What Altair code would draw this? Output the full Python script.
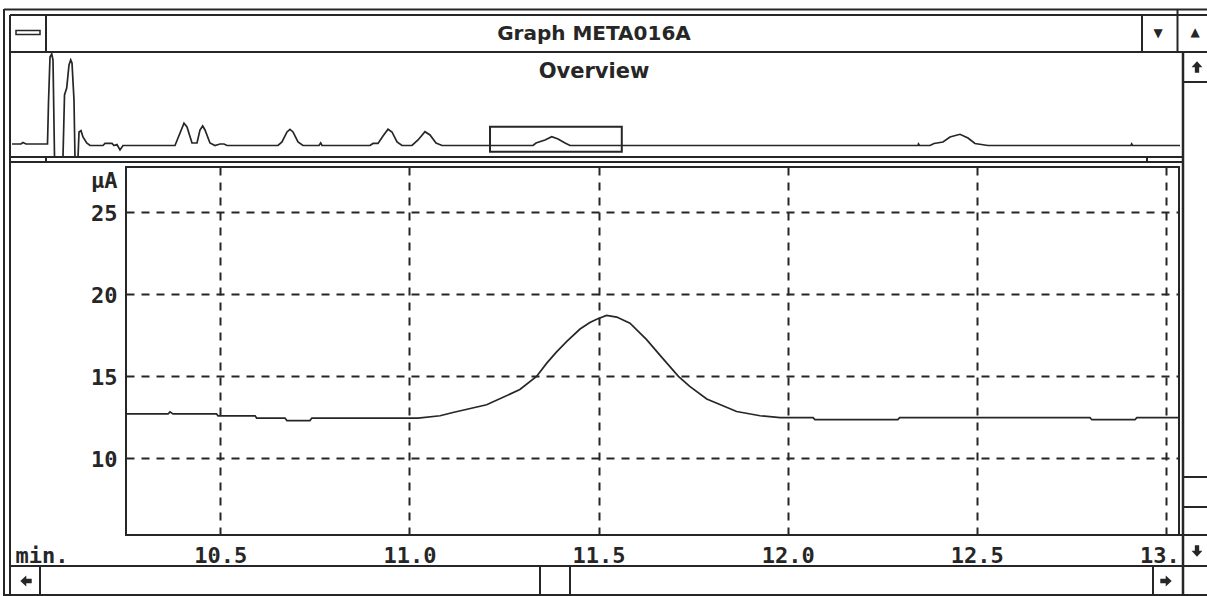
import altair as alt
import pandas as pd

# ---------------- data ----------------
# main (zoomed) trace: retention time [min] vs detector current [µA]
main_t = [10.251, 10.362, 10.367, 10.375, 10.490, 10.494, 10.592, 10.596, 10.671, 10.676,
          10.737, 10.742, 11.023, 11.081, 11.115, 11.204, 11.292, 11.336, 11.363, 11.389,
          11.416, 11.451, 11.477, 11.495, 11.521, 11.548, 11.583, 11.627, 11.665, 11.711,
          11.741, 11.786, 11.865, 11.927, 11.980, 12.067, 12.072, 12.291, 12.296, 12.799,
          12.804, 12.918, 12.923, 13.034]
main_v = [12.67, 12.67, 12.80, 12.67, 12.67, 12.56, 12.56, 12.42, 12.42, 12.27,
          12.27, 12.42, 12.42, 12.56, 12.76, 13.23, 14.16, 14.96, 15.77, 16.46,
          17.10, 17.85, 18.25, 18.45, 18.68, 18.58, 18.21, 17.20, 16.18, 14.96,
          14.35, 13.58, 12.82, 12.56, 12.45, 12.45, 12.33, 12.33, 12.45, 12.45,
          12.32, 12.32, 12.45, 12.45]

# overview trace (whole run)
ov_t = [0.165, 0.355, 0.397, 0.461, 0.914, 0.935, 0.967, 1.003, 1.030, 1.062,
        1.241, 1.273, 1.319, 1.368, 1.404, 1.431, 1.473, 1.494, 1.558, 1.579,
        1.621, 1.663, 1.741, 1.811, 2.085, 2.127, 2.275, 2.317, 2.380, 2.444,
        2.507, 3.604, 3.710, 3.794, 3.857, 3.963, 4.068, 4.131, 4.188, 4.237,
        4.342, 4.448, 4.553, 4.638, 4.701, 5.777, 5.861, 5.967, 6.030, 6.093,
        6.199, 6.304, 6.642, 6.678, 6.705, 7.718, 7.781, 7.887, 7.992, 8.098,
        8.182, 8.288, 8.393, 8.604, 8.731, 8.878, 8.984, 9.111, 9.237, 11.157,
        11.220, 11.410, 11.552, 11.685, 11.833, 11.938, 19.279, 19.289, 19.311, 19.532,
        19.617, 19.806, 19.954, 20.165, 20.334, 20.481, 20.755, 23.772, 23.787, 23.804,
        24.806]
ov_v = [13.53, 13.53, 14.57, 13.53, 13.53, 41.81, 73.53, 75.60, 71.47, 4.57,
        4.57, 47.33, 52.16, 68.02, 71.47, 69.40, 43.88, 4.57, 4.57, 21.81,
        22.71, 18.36, 14.22, 12.50, 12.50, 13.88, 13.88, 12.50, 13.19, 9.40,
        12.50, 12.50, 21.12, 27.81, 25.26, 14.22, 14.22, 23.19, 25.95, 23.19,
        14.22, 12.50, 13.53, 13.53, 12.50, 12.50, 14.91, 21.81, 23.67, 21.81,
        14.91, 12.50, 12.50, 14.22, 12.50, 12.50, 13.88, 13.88, 19.05, 23.67,
        21.81, 14.91, 12.50, 12.50, 16.29, 22.02, 19.74, 14.22, 12.50, 12.50,
        14.22, 16.29, 18.57, 16.98, 14.22, 12.50, 12.50, 13.53, 12.50, 12.50,
        13.88, 14.91, 18.36, 20.22, 17.67, 13.88, 12.50, 12.50, 13.53, 12.50,
        12.50]

x_ticks = [10.5, 11.0, 11.5, 12.0, 12.5, 13.0]
y_ticks = [10, 15, 20, 25]
view_window = [10.25, 13.03]   # time range shown in the main graph

# ---------------- layout / style ----------------
OX, OY = 126, 167          # plot-area origin in the window
W, H = 1053, 368
INK = "#262626"
MONO = "DejaVu Sans Mono"
SANS = "DejaVu Sans"
ARROW = "M0,-1 L0.95,0.05 L0.38,0.05 L0.38,1 L-0.38,1 L-0.38,0.05 L-0.95,0.05 Z"

main_df = pd.DataFrame({"t": main_t, "v": main_v})
ov_df = pd.DataFrame({"t": ov_t, "v": ov_v})
box_df = pd.DataFrame({"t0": [view_window[0]], "t1": [view_window[1]]})
one = pd.DataFrame({"k": [0]})

ov_x = alt.Scale(domain=[0, 25], range=[4.17 - OX, 1189.17 - OX], nice=False, zero=False)
ov_y = alt.Scale(domain=[0, 80], range=[163.6 - OY, 47.6 - OY], nice=False, zero=False)

main = alt.Chart(main_df).mark_line(color=INK, strokeWidth=1.7).encode(
    x=alt.X("t:Q",
            scale=alt.Scale(domain=[10.2507, 13.0344], nice=False, zero=False),
            axis=alt.Axis(values=x_ticks, labelExpr="format(datum.value, '.1f')",
                          grid=True, gridDash=[8, 7], gridColor=INK, gridWidth=2, gridOpacity=1,
                          domain=False, ticks=False,
                          labelFont=MONO, labelFontWeight="bold", labelFontSize=22,
                          labelColor=INK, labelPadding=10, labelFlush=False, labelOverlap=False,
                          title="min.", titleFont=MONO, titleFontWeight="bold", titleFontSize=22,
                          titleColor=INK, titleAlign="left", titleAngle=0,
                          titleBaseline="alphabetic", titleX=15 - OX, titleY=562 - 535)),
    y=alt.Y("v:Q",
            scale=alt.Scale(domain=[5.29, 27.73], nice=False, zero=False),
            axis=alt.Axis(values=y_ticks, grid=True, gridDash=[8, 7], gridColor=INK,
                          gridWidth=2, gridOpacity=1, domain=False, ticks=False,
                          labelFont=MONO, labelFontWeight="bold", labelFontSize=22,
                          labelColor=INK, labelPadding=9, labelOffset=2, labelFlush=False,
                          title="µA", titleFont=MONO, titleFontWeight="bold", titleFontSize=22,
                          titleColor=INK, titleAlign="right", titleAngle=0,
                          titleBaseline="alphabetic", titleX=-9, titleY=20)),
)

overview = alt.Chart(ov_df).mark_line(color=INK, strokeWidth=1.7).encode(
    x=alt.X("t:Q", scale=ov_x, axis=None),
    y=alt.Y("v:Q", scale=ov_y, axis=None),
)

box = alt.Chart(box_df).mark_rect(fill="white", fillOpacity=0, stroke=INK, strokeWidth=2).encode(
    x=alt.X("t0:Q", scale=ov_x, axis=None),
    x2="t1:Q",
    y=alt.value(126.7 - OY),
    y2=alt.value(151.7 - OY),
)


def cover(x1, y1, x2, y2):
    return alt.Chart(one).mark_rect(fill="white", stroke=None).encode(
        x=alt.value(x1 - OX), x2=alt.value(x2 - OX),
        y=alt.value(y1 - OY), y2=alt.value(y2 - OY))


def hline(y, x1, x2, w=2):
    return alt.Chart(one).mark_rule(color=INK, strokeWidth=w).encode(
        x=alt.value(x1 - OX), x2=alt.value(x2 - OX), y=alt.value(y - OY))


def vline(x, y1, y2, w=2):
    return alt.Chart(one).mark_rule(color=INK, strokeWidth=w).encode(
        x=alt.value(x - OX), y=alt.value(y1 - OY), y2=alt.value(y2 - OY))


def label(txt, x, y, size, font=SANS, weight="bold", baseline="middle"):
    return alt.Chart(one).mark_text(font=font, fontSize=size, fontWeight=weight, color=INK,
                                    align="center", baseline=baseline).encode(
        x=alt.value(x - OX), y=alt.value(y - OY), text=alt.value(txt))


def arrow(x, y, angle):
    return alt.Chart(one).mark_point(shape=ARROW, filled=True, color=INK, opacity=1,
                                     size=130, angle=angle).encode(
        x=alt.value(x - OX), y=alt.value(y - OY))


chrome = [
    cover(1184, 52, 1207, 596),
    cover(1177, 537, 1207, 565),
    # outer frame
    hline(9.5, 4, 1207), hline(15, 10, 1207), hline(52, 10, 1207),
    vline(4, 9, 596), vline(10, 15, 596),
    hline(595, 4, 1207),
    # title bar buttons
    vline(46, 15, 52), vline(1142, 15, 52), vline(1177.5, 9, 52),
    # overview / main separator
    hline(157, 10, 1183), hline(162, 10, 1183),
    vline(46, 157, 162), vline(1147, 157, 162),
    # vertical scrollbar
    vline(1183, 52, 596, 2.5),
    hline(82, 1183, 1207), hline(477, 1183, 1207), hline(507, 1183, 1207),
    hline(535, 1177, 1207),
    # horizontal scrollbar
    hline(566, 10, 1207),
    vline(40, 566, 596), vline(540, 566, 596), vline(570, 566, 596), vline(1153, 566, 596),
    # system menu glyph
    alt.Chart(one).mark_rect(fill="white", stroke=INK, strokeWidth=1.5).encode(
        x=alt.value(16 - OX), x2=alt.value(40 - OX),
        y=alt.value(30.5 - OY), y2=alt.value(34.5 - OY)),
    # texts
    label("Graph META016A", 594, 40, 20, baseline="alphabetic"),
    label("Overview", 594, 78, 21, baseline="alphabetic"),
    label("▼", 1158, 33, 12),
    label("▲", 1195, 32, 12),
    arrow(1197, 67, 0),
    arrow(1197, 551, 180),
    arrow(26, 581, 270),
    arrow(1166, 581, 90),
]

chart = alt.layer(main, overview, box, *chrome).resolve_scale(
    x="independent", y="independent"
).properties(
    width=W, height=H,
    padding={"left": OX, "top": OY, "right": 1207 - OX - W, "bottom": 596 - OY - H},
    autosize=alt.AutoSizeParams(type="none"),
    background="white",
).configure_view(stroke=INK, strokeWidth=2)

chart.save("out.html", embed_options={"renderer": "svg", "actions": False})
